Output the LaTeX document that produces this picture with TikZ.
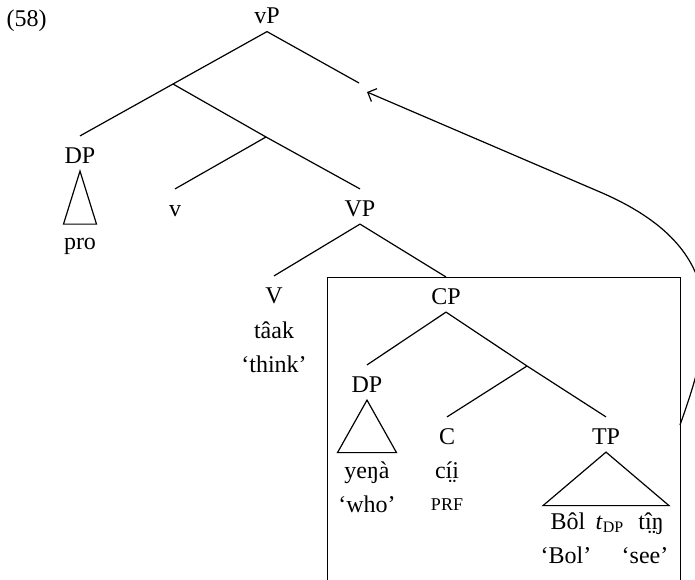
\documentclass[tikz,border=0pt]{standalone}
\usepackage{fontspec}
\setmainfont{Liberation Serif}
\usetikzlibrary{arrows.meta}
\begin{document}
\begin{tikzpicture}[x=0.5pt,y=-0.5pt,line width=0.6pt,
  cat/.style={anchor=base,inner xsep=0pt,inner ysep=3.75pt,
    text height=9.5pt,text depth=0pt,font=\fontsize{12}{14}\selectfont},
  word/.style={anchor=base,inner sep=0pt,font=\fontsize{12}{14}\selectfont},
  feat/.style={anchor=base,inner sep=0pt,font=\fontsize{9}{10}\selectfont},
  mover/.style={-{Straight Barb[length=3.5pt,width=7pt]}}]
\useasboundingbox (0,0) rectangle (695,579);
\clip (0,0) rectangle (695,579);

% example number
\node[word,anchor=base west] (exnum) at (6,26) {(58)};

% upper tree
\node[cat] (vP) at (267,23.5) {vP};
\coordinate (n1) at (173,84);
\coordinate (spec) at (359,83);
\coordinate (n2) at (266,137);
\node[cat] (DPa) at (80,163) {DP};
\node[word] (pro) at (80,249) {pro};
\node[cat] (v) at (175,216) {v};
\node[cat] (VP) at (360,216) {VP};
\node[cat] (V) at (274,303) {V};
\node[word] (taak) at (274,338) {tâak};
\node[word] (think) at (274,372) {‘think’};

\draw (vP.south) -- (n1);
\draw (vP.south) -- (spec);
\draw (n1) -- (DPa.north);
\draw (n1) -- (n2);
\draw (n2) -- (v.north);
\draw (n2) -- (VP.north);
\draw (VP.south) -- (V.north);
\draw (DPa.south) -- ++(-16.5,53) -- ++(33,0) -- cycle;

% embedded clause in its box
\node[draw,anchor=north west,minimum width=176.5pt,minimum height=180pt,
  inner sep=0pt] (cpbox) at (327,277) {};
\node[cat] (CP) at (446,304) {CP};
\draw (VP.south) -- (CP.north |- cpbox.north);
\coordinate (n3) at (527,366);
\node[cat] (DPb) at (367,392) {DP};
\node[word] (yena) at (367,478) {yeŋà};
\node[word] (who) at (367,512) {‘who’};
\node[cat] (C) at (447,444) {C};
\node[word] (cii) at (447,478) {cí̤i};
\node[feat] (prf) at (447,510) {PRF};
\node[cat] (TP) at (606,444) {TP};
\node[word] (bol) at (568,529) {Bôl};
\node[word] (trace) at (610,529) {\textit{t}\textsubscript{DP}};
\node[word] (tin) at (651,529) {tî̤ŋ};
\node[word] (glbol) at (566,563) {‘Bol’};
\node[word] (glsee) at (645,563) {‘see’};

\draw (CP.south) -- (DPb.north);
\draw (CP.south) -- (n3);
\draw (n3) -- (C.north);
\draw (n3) -- (TP.north);
\draw (DPb.south) -- ++(-29.5,52.5) -- ++(59,0) -- cycle;
\draw (TP.south) -- ++(-63,53.5) -- ++(126,0) -- cycle;

% movement arrow
\coordinate (mvstart) at (680,425);
\coordinate (landing) at (367,92);
\draw[mover] (mvstart) .. controls (712,335) and (735,250) .. (600,192) -- (landing);
\end{tikzpicture}
\end{document}
